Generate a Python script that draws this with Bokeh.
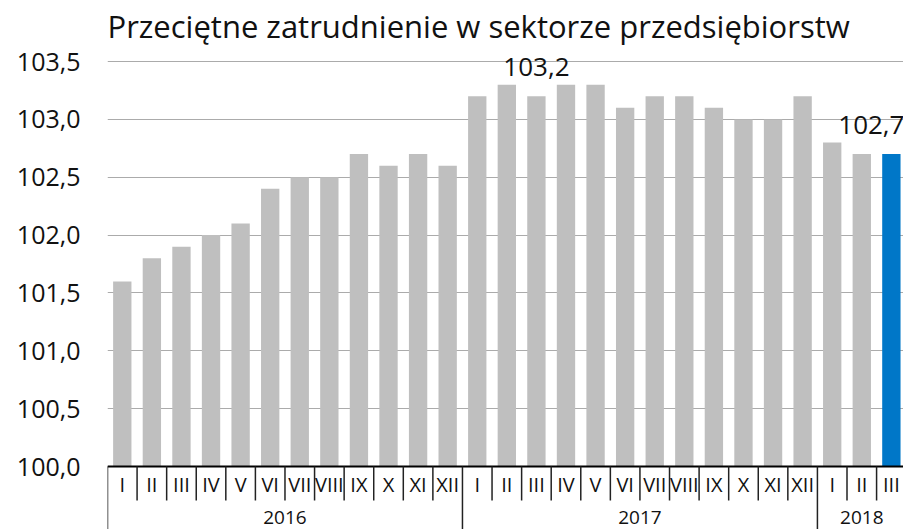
from bokeh.plotting import figure
from bokeh.models import Range1d, FixedTicker, ColumnDataSource, CustomJSTickFormatter
from bokeh.core.properties import value
from bokeh.embed import file_html
from bokeh.resources import INLINE

# ---------------- data ----------------
title_text = "Przeciętne zatrudnienie w sektorze przedsiębiorstw"
years = ["2016", "2017", "2018"]
months_2016 = ["I", "II", "III", "IV", "V", "VI", "VII", "VIII", "IX", "X", "XI", "XII"]
months_2017 = ["I", "II", "III", "IV", "V", "VI", "VII", "VIII", "IX", "X", "XI", "XII"]
months_2018 = ["I", "II", "III"]
values_2016 = [101.6, 101.8, 101.9, 102.0, 102.1, 102.4, 102.5, 102.5, 102.7, 102.6, 102.7, 102.6]
values_2017 = [103.2, 103.3, 103.2, 103.3, 103.3, 103.1, 103.2, 103.2, 103.1, 103.0, 103.0, 103.2]
values_2018 = [102.8, 102.7, 102.7]
y_ticks = [100.0, 100.5, 101.0, 101.5, 102.0, 102.5, 103.0, 103.5]
labelled_bars = [("2017", "III"), ("2018", "III")]
highlight_bar = ("2018", "III")

# ---------------- styles / layout ----------------
GRAY = "#BFBFBF"
BLUE = "#0077C8"
TEXT = "#111111"
FONT = "Open Sans"
W, H = 903, 529
FRAME_LEFT = 107          # px inside figure
FRAME_TOP = 48            # px inside figure
PX_PER_UNIT = 115.7       # vertical scale (px per 1.0)
PX_PER_CAT = 29.58        # horizontal scale (px per category)
BASE_PX_FROM_BOTTOM = 63  # px from frame bottom to the y=100 baseline

months_by_year = [months_2016, months_2017, months_2018]
values_by_year = [values_2016, values_2017, values_2018]

xs, months, vals, yrs = [], [], [], []
for y, ms, vs in zip(years, months_by_year, values_by_year):
    for m, v in zip(ms, vs):
        xs.append(len(xs))
        months.append(m)
        vals.append(v)
        yrs.append(y)

colors = [BLUE if (yy, mm) == highlight_bar else GRAY for yy, mm in zip(yrs, months)]
base = y_ticks[0]

frame_h = H - FRAME_TOP
y_start = base - BASE_PX_FROM_BOTTOM / PX_PER_UNIT
y_end = y_start + frame_h / PX_PER_UNIT
x_start = -0.5
x_end = x_start + (W - FRAME_LEFT) / PX_PER_CAT

p = figure(width=W, height=H, output_backend="svg", toolbar_location=None,
           x_range=Range1d(x_start, x_end), y_range=Range1d(y_start, y_end),
           min_border_left=FRAME_LEFT, min_border_right=0,
           min_border_top=FRAME_TOP, min_border_bottom=0)
p.outline_line_color = None
p.background_fill_color = "white"
p.border_fill_color = "white"

p.title.text = title_text
p.title.text_font = FONT
p.title.text_font_size = "31px"
p.title.text_font_style = "normal"
p.title.text_color = TEXT
p.title.align = "left"
p.title.standoff = 4

p.xaxis.visible = False
p.xgrid.visible = False

yax = p.yaxis[0]
yax.ticker = FixedTicker(ticks=y_ticks)
yax.formatter = CustomJSTickFormatter(code="return tick.toFixed(1).replace('.', ',');")
yax.axis_line_color = None
yax.major_tick_line_color = None
yax.minor_tick_line_color = None
yax.major_tick_in = 0
yax.major_tick_out = 0
yax.major_label_standoff = 27
yax.major_label_text_font = FONT
yax.major_label_text_font_size = "25px"
yax.major_label_text_color = TEXT

p.ygrid.grid_line_color = "#ABABAB"
p.ygrid.grid_line_width = 1

src = ColumnDataSource(dict(x=xs, top=vals, color=colors, month=months))
p.vbar(x="x", top="top", bottom=base, width=0.62, color="color", line_color=None, source=src)

# value labels
lab_x, lab_y, lab_t = [], [], []
for yy, mm in labelled_bars:
    i = [k for k in xs if yrs[k] == yy and months[k] == mm][0]
    lab_x.append(i)
    lab_y.append(vals[i] + 29 / PX_PER_UNIT)
    lab_t.append(f"{vals[i]:.1f}".replace(".", ","))
p.text(x=lab_x[:1], y=lab_y[:1], text=lab_t[:1], text_align="center", text_baseline="alphabetic",
       text_font=value(FONT), text_font_size="26px", text_color=TEXT)
p.text(x=lab_x[1:], y=lab_y[1:], text=lab_t[1:], text_align="center", text_baseline="alphabetic",
       x_offset=-20, text_font=value(FONT), text_font_size="26px", text_color=TEXT)

# category axis: baseline, month labels, separators, year labels
month_row_px = 34
p.segment(x0=[x_start], y0=[base], x1=[x_end], y1=[base], line_color="#000000", line_width=2)
p.text(x=xs, y=[base - (month_row_px / 2 + 1) / PX_PER_UNIT] * len(xs), text=months,
       text_align="center", text_baseline="middle",
       text_font=value(FONT), text_font_size="20px", text_color=TEXT)

year_bounds = [-0.5]
for ms in months_by_year:
    year_bounds.append(year_bounds[-1] + len(ms))
month_seps = [x - 0.5 for x in xs if (x - 0.5) not in year_bounds]
p.segment(x0=month_seps, y0=[base] * len(month_seps), x1=month_seps,
          y1=[base - month_row_px / PX_PER_UNIT] * len(month_seps),
          line_color="#222222", line_width=1.5)
p.segment(x0=year_bounds, y0=[base] * len(year_bounds), x1=year_bounds,
          y1=[y_start] * len(year_bounds), line_color="#222222", line_width=1.5)

year_centers = [(a + b) / 2 for a, b in zip(year_bounds[:-1], year_bounds[1:])]
p.text(x=year_centers, y=[base - (month_row_px + 17) / PX_PER_UNIT] * len(years), text=years,
       text_align="center", text_baseline="middle",
       text_font=value(FONT), text_font_size="19px", text_color=TEXT)

open("out.html", "w").write(file_html(p, INLINE))
